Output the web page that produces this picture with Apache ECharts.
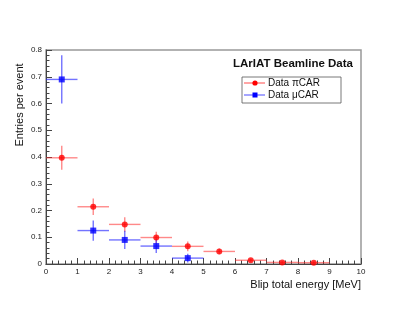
<!DOCTYPE html>
<html><head><meta charset="utf-8">
<script src="https://cdn.jsdelivr.net/npm/echarts@6/dist/echarts.min.js"></script>
<style>html,body{margin:0;padding:0;background:#fff}#c{width:407px;height:315px}</style>
</head><body><div id="c"></div>
<script>
// Data
const binCenters = [0.5, 1.5, 2.5, 3.5, 4.5, 5.5, 6.5, 7.5, 8.5];
const binHalfWidth = 0.5;
const piCarValues = [0.397, 0.214, 0.148, 0.099, 0.066, 0.047, 0.014, 0.006, 0.005];
const piCarErrors = [0.045, 0.031, 0.027, 0.022, 0.018, 0.011, 0.006, 0.004, 0.004];
const muCarCenters = [0.5, 1.5, 2.5, 3.5, 4.5];
const muCarValues = [0.690, 0.125, 0.090, 0.067, 0.022];
const muCarErrors = [0.090, 0.038, 0.034, 0.026, 0.016];
const xTicks = [0,1,2,3,4,5,6,7,8,9,10];
const yTicks = [0,0.1,0.2,0.3,0.4,0.5,0.6,0.7,0.8];

const FONT = 'Liberation Sans, Arial, sans-serif';
const chart = echarts.init(document.getElementById('c'), null, {renderer:'canvas'});

function errData(xs, ys, es){ return xs.map((x,i)=>[x, ys[i], es[i]]); }
function errRender(color){
  return function(params, api){
    const x = api.value(0), y = api.value(1), e = api.value(2);
    const pL = api.coord([x - binHalfWidth, y]);
    const pR = api.coord([x + binHalfWidth, y]);
    const pT = api.coord([x, y + e]);
    const pB = api.coord([x, Math.max(0, y - e)]);
    const style = {stroke: color, lineWidth: 1.4};
    return {type:'group', children:[
      {type:'line', shape:{x1:pL[0], y1:pL[1], x2:pR[0], y2:pR[1]}, style},
      {type:'line', shape:{x1:pT[0], y1:pT[1], x2:pB[0], y2:pB[1]}, style}
    ]};
  };
}

const axisCommon = {
  axisLine:{show:true, lineStyle:{color:'#444', width:1}},
  axisTick:{show:true, inside:true, length:6, lineStyle:{color:'#444', width:1}},
  minorTick:{show:true, splitNumber:5, length:3.5, lineStyle:{color:'#444', width:1}},
  splitLine:{show:false},
  axisLabel:{fontFamily:FONT, fontSize:8, color:'#222'}
};

chart.setOption({
  animation:false,
  grid:{left:46, right:46, top:50, bottom:51, show:true, borderColor:'#999', borderWidth:1.5, backgroundColor:'transparent'},
  xAxis:Object.assign({type:'value', min:xTicks[0], max:xTicks[xTicks.length-1], interval:1}, axisCommon,
    {axisLabel:Object.assign({}, axisCommon.axisLabel, {margin:4})}),
  yAxis:Object.assign({type:'value', min:yTicks[0], max:yTicks[yTicks.length-1], interval:0.1}, axisCommon,
    {axisLabel:Object.assign({}, axisCommon.axisLabel, {margin:4, formatter:v=> v===0?'0':v.toFixed(1)})}),
  series:[
    {type:'custom', name:'piErr', data:errData(binCenters, piCarValues, piCarErrors), renderItem:errRender('rgba(255,40,40,0.55)'), z:2},
    {type:'custom', name:'muErr', data:errData(muCarCenters, muCarValues, muCarErrors), renderItem:errRender('rgba(40,40,255,0.65)'), z:2},
    {type:'scatter', name:'Data πCAR', data:binCenters.map((x,i)=>[x,piCarValues[i]]), symbol:'circle', symbolSize:6, itemStyle:{color:'#ff0000'}, z:3},
    {type:'scatter', name:'Data μCAR', data:muCarCenters.map((x,i)=>[x,muCarValues[i]]), symbol:'rect', symbolSize:6, itemStyle:{color:'#0000ff'}, z:3}
  ],
  graphic:[
    {type:'text', x:20, y:105, rotation:Math.PI/2, style:{text:'Entries per event', font:'11px '+FONT, fill:'#111', textAlign:'center', textVerticalAlign:'middle'}},
    {type:'text', style:{text:'Blip total energy [MeV]', font:'11px '+FONT, fill:'#111', textAlign:'right', textVerticalAlign:'middle', x:361, y:285}},
    {type:'text', style:{text:'LArIAT Beamline Data', font:'bold 11.5px '+FONT, fill:'#111', textAlign:'center', textVerticalAlign:'middle', x:293, y:64}},
    {type:'rect', shape:{x:242, y:77, width:99, height:26}, style:{fill:'#fff', stroke:'#555', lineWidth:0.8}},
    {type:'line', shape:{x1:244, y1:83, x2:265, y2:83}, style:{stroke:'rgba(255,40,40,0.7)', lineWidth:1.2}},
    {type:'circle', shape:{cx:255, cy:83, r:2.6}, style:{fill:'#ff0000'}},
    {type:'text', style:{text:'Data πCAR', font:'10px '+FONT, fill:'#111', textAlign:'left', textVerticalAlign:'middle', x:268, y:83}},
    {type:'line', shape:{x1:244, y1:95, x2:265, y2:95}, style:{stroke:'rgba(40,40,255,0.7)', lineWidth:1.2}},
    {type:'rect', shape:{x:252.5, y:92.5, width:5, height:5}, style:{fill:'#0000ff'}},
    {type:'text', style:{text:'Data μCAR', font:'10px '+FONT, fill:'#111', textAlign:'left', textVerticalAlign:'middle', x:268, y:95}}
  ]
});
</script></body></html>
